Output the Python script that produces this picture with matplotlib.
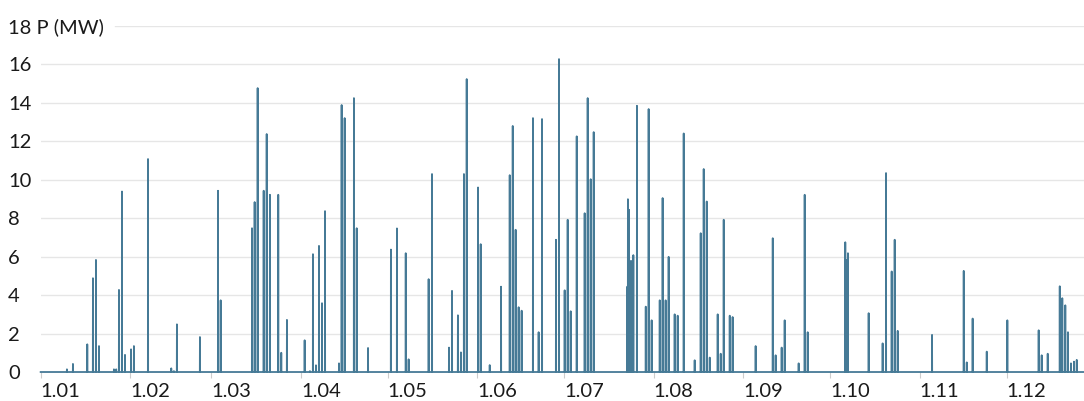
import pandas as pd
import matplotlib
matplotlib.use("Agg")
import matplotlib.pyplot as plt

# spikes: day of year (0 = 1 Jan 00:00) and peak power in MW
spike_day = [
    9.10, 11.17, 16.12, 18.09, 19.12, 20.16, 25.35, 26.14, 27.08, 28.12,
    29.15, 31.23, 32.27, 37.11, 45.17, 46.10, 47.14, 55.09, 61.32, 62.25,
    73.07, 74.01, 75.05, 77.12, 78.16, 79.30, 82.17, 83.21, 85.18, 91.30,
    93.13, 94.17, 95.21, 96.24, 97.28, 98.32, 103.16, 104.10, 105.13, 108.35,
    109.28, 113.19, 121.14, 123.21, 126.23, 127.27, 134.18, 135.32, 141.20, 142.24,
    144.31, 145.35, 146.38, 147.32, 151.23, 152.16, 155.28, 159.19, 162.19, 163.23,
    164.27, 165.31, 166.34, 170.25, 172.22, 173.36, 178.21, 179.25, 181.21, 182.25,
    183.29, 185.36, 188.13, 189.17, 190.21, 191.24, 202.86, 203.10, 203.44, 203.79,
    204.13, 204.72, 204.94, 206.22, 209.23, 210.26, 211.30, 214.07, 215.10, 216.14,
    217.18, 219.26, 220.29, 222.37, 226.17, 228.25, 229.28, 230.32, 231.36, 234.13,
    235.16, 236.20, 238.28, 239.31, 247.27, 253.15, 254.18, 256.26, 257.30, 262.14,
    264.21, 265.25, 278.25, 278.60, 279.18, 286.34, 291.18, 292.32, 294.29, 295.33,
    296.37, 308.24, 319.20, 320.23, 322.30, 327.15, 334.28, 345.14, 346.17, 348.25,
    352.40, 353.30, 354.34, 355.27, 356.31, 357.35, 358.28,
]
spike_mw = [
    0.14, 0.42, 1.44, 4.88, 5.83, 1.35, 0.14, 0.14, 4.27, 9.39,
    0.89, 1.18, 1.35, 11.08, 0.19, 0.05, 2.48, 1.82, 9.43, 3.73,
    7.48, 8.84, 14.77, 9.43, 12.38, 9.22, 9.22, 1.00, 2.71, 1.65,
    0.05, 6.13, 0.35, 6.56, 3.58, 8.37, 0.45, 13.89, 13.21, 14.25,
    7.48, 1.25, 6.37, 7.47, 6.18, 0.66, 4.83, 10.30, 1.27, 4.22,
    2.95, 1.02, 10.30, 15.24, 9.60, 6.65, 0.36, 4.44, 10.24, 12.80,
    7.40, 3.37, 3.19, 13.21, 2.07, 13.16, 6.88, 16.28, 4.25, 7.92,
    3.16, 12.26, 8.26, 14.25, 10.03, 12.48, 4.44, 8.99, 8.44, 5.14,
    5.78, 5.78, 6.08, 13.85, 3.40, 13.68, 2.69, 3.73, 9.05, 3.73,
    5.99, 3.00, 2.93, 12.41, 0.61, 7.22, 10.56, 8.87, 0.75, 3.00,
    0.95, 7.92, 2.93, 2.86, 1.35, 6.96, 0.87, 1.27, 2.69, 0.45,
    9.22, 2.07, 6.75, 5.83, 6.18, 3.06, 1.49, 10.35, 5.23, 6.88,
    2.14, 1.93, 5.26, 0.50, 2.78, 1.06, 2.69, 2.17, 0.87, 0.95,
    4.46, 3.84, 3.47, 2.07, 0.45, 0.54, 0.63,
]

x_labels = ["1.01", "1.02", "1.03", "1.04", "1.05", "1.06",
            "1.07", "1.08", "1.09", "1.10", "1.11", "1.12"]
y_values = [0, 2, 4, 6, 8, 10, 12, 14, 16, 18]
y_labels = ["0", "2", "4", "6", "8", "10", "12", "14", "16", "18 P (MW)"]

line_color = "#467a96"
grid_color = "#e6e6e6"
text_color = "#1a1a1a"

# hourly series, zero between spikes
start = pd.Timestamp("2023-01-01")
end = start + pd.Timedelta(days=360.8)
hours = pd.date_range(start, end, freq="h")
power = pd.Series(0.0, index=hours)
spike_time = (start + pd.to_timedelta(spike_day, unit="D")).round("h")
power.loc[spike_time] = spike_mw

plt.rcParams["font.family"] = ["Lato", "DejaVu Sans"]

fig = plt.figure(figsize=(10.84, 4.01), dpi=100)
ax = fig.add_axes([0.0375, 0.0723, 0.9625, 0.8628])

# gridlines (the top one starts after its label)
for y in y_values[1:-1]:
    ax.axhline(y, color=grid_color, lw=1, zorder=0)
ax.axhline(18, xmin=(115 - 40.7) / (1084 - 40.7), color=grid_color, lw=1, zorder=0)

ax.plot(power.index, power.values, color=line_color, lw=1.3, clip_on=False, zorder=3)

ax.set_xlim(start, end)
ax.set_ylim(0, 18)

month_starts = pd.date_range(start, periods=12, freq="MS")
ax.set_xticks(month_starts)
ax.set_xticklabels(x_labels, ha="left", fontsize=14.5, color=text_color)
ax.tick_params(axis="x", length=4, width=0.8, color="#cccccc", pad=4)

ax.set_yticks(y_values)
ax.set_yticklabels(y_labels, ha="left", fontsize=14.5, color=text_color)
ax.tick_params(axis="y", length=0, pad=23.5)

for side in ["top", "right", "left", "bottom"]:
    ax.spines[side].set_visible(False)

fig.savefig("out.png", dpi=100)
